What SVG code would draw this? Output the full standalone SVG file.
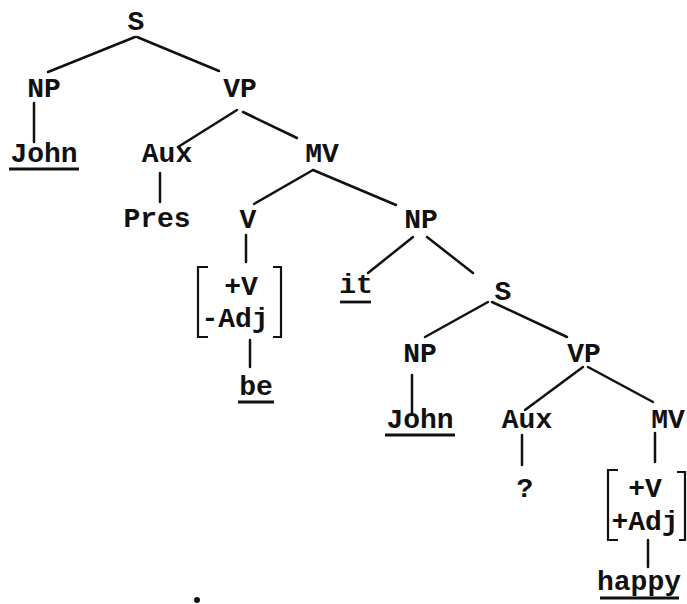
<svg xmlns="http://www.w3.org/2000/svg" width="687" height="604" viewBox="0 0 687 604">
<style>
text{font-family:"Liberation Mono","Courier New",monospace;font-size:28px;font-weight:bold;fill:#111;text-anchor:middle}
.e line,.e path{stroke:#111;stroke-width:2.5;fill:none;stroke-linecap:round}
.u{stroke:#111;stroke-width:2.8}
.b{stroke:#111;stroke-width:2.2;fill:none}
</style>
<rect width="687" height="604" fill="#fff"/>
<g class="e" id="connectors">
<line x1="135" y1="37" x2="48" y2="72"/>
<line x1="137" y1="37" x2="219" y2="71"/>
<line x1="34" y1="103" x2="34" y2="142"/>
<line x1="237" y1="110" x2="178" y2="147"/>
<line x1="243" y1="112" x2="297" y2="138"/>
<line x1="160" y1="173" x2="160" y2="202"/>
<line x1="313" y1="170" x2="254" y2="204"/>
<line x1="313" y1="170" x2="396" y2="205"/>
<line x1="246" y1="235" x2="246" y2="262"/>
<line x1="250" y1="340" x2="250" y2="367"/>
<line x1="413" y1="237" x2="368" y2="273"/>
<line x1="427" y1="237" x2="473" y2="273"/>
<line x1="488" y1="302" x2="425" y2="337"/>
<line x1="492" y1="302" x2="567" y2="337"/>
<line x1="412" y1="375" x2="412" y2="415"/>
<line x1="583" y1="367" x2="525" y2="410"/>
<line x1="588" y1="367" x2="653" y2="402"/>
<line x1="522" y1="435" x2="522" y2="465"/>
<line x1="655" y1="433" x2="655" y2="462"/>
<line x1="648" y1="540" x2="648" y2="567"/>
</g>
<g id="S1"><text x="136" y="30">S</text></g>
<g id="NP1"><text x="44" y="97">NP</text></g>
<g id="VP1"><text x="240" y="97">VP</text></g>
<g id="John1"><text x="44" y="162">John</text><line class="u" x1="9" y1="169" x2="79" y2="169"/></g>
<g id="Aux1"><text x="167" y="162">Aux</text></g>
<g id="MV1"><text x="322" y="162">MV</text></g>
<g id="Pres"><text x="157" y="227">Pres</text></g>
<g id="V"><text x="248" y="228">V</text></g>
<g id="NP2"><text x="421" y="228">NP</text></g>
<g id="feat1">
<path class="b" d="M208,267 H198 V337 H208"/>
<path class="b" d="M273,267 H281 V337 H273"/>
<text x="241" y="295">+V</text>
<text x="235" y="327">-Adj</text>
</g>
<g id="be"><text x="256" y="395">be</text><line class="u" x1="238" y1="402" x2="274" y2="402"/></g>
<g id="it"><text x="356" y="293">it</text><line class="u" x1="340" y1="302" x2="371" y2="302"/></g>
<g id="S2"><text x="503" y="300">S</text></g>
<g id="NP3"><text x="420" y="362">NP</text></g>
<g id="VP2"><text x="584" y="362">VP</text></g>
<g id="John2"><text x="420" y="428">John</text><line class="u" x1="385" y1="435" x2="455" y2="435"/></g>
<g id="Aux2"><text x="527" y="428">Aux</text></g>
<g id="MV2"><text x="668" y="428">MV</text></g>
<g id="Q"><text x="525" y="497">?</text></g>
<g id="feat2">
<path class="b" d="M618,470 H608 V540 H618"/>
<path class="b" d="M677,472 H685 V540 H679"/>
<text x="645" y="497">+V</text>
<text x="645" y="530">+Adj</text>
</g>
<g id="happy"><text x="639" y="590">happy</text><line class="u" x1="600" y1="598" x2="679" y2="598"/></g>
<circle cx="197" cy="600" r="3" fill="#111"/>
</svg>
